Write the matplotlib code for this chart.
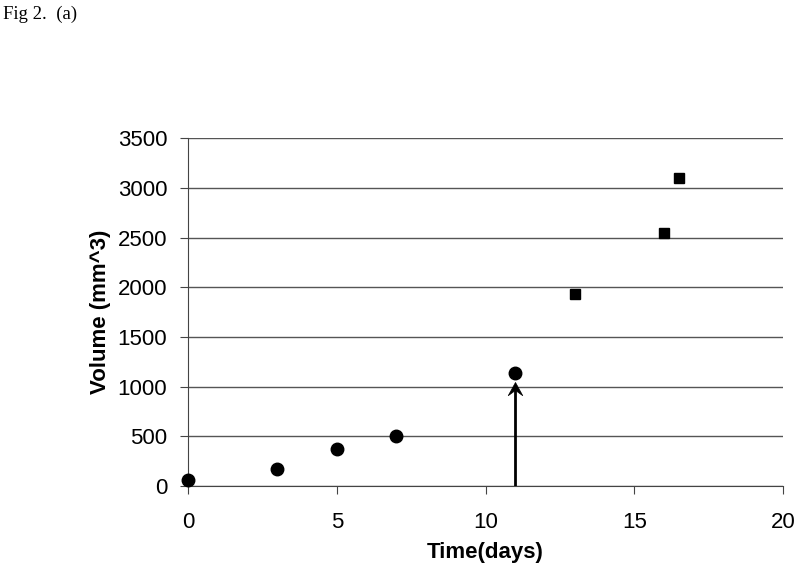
import matplotlib
matplotlib.use("Agg")
import matplotlib.pyplot as plt
from matplotlib.path import Path

# measured tumour volume
days_pre = [0, 3, 5, 7, 11]
vol_pre = [60, 170, 370, 500, 1140]
days_post = [13, 16, 16.5]
vol_post = [1930, 2545, 3095]
arrow_day = 11
arrow_top = 1045

plt.rcParams['font.family'] = ['Liberation Sans', 'DejaVu Sans']

fig = plt.figure(figsize=(8, 5.71), dpi=100)
ax = fig.add_axes([0.235, 0.149, 0.744, 0.609])

ax.set_xlim(0, 20)
ax.set_ylim(0, 3500)
ax.set_xticks(range(0, 21, 5))
ax.set_yticks(range(0, 3501, 500))
ax.yaxis.grid(True, color='#555555', linewidth=1)
ax.set_axisbelow(True)
for s in ['top', 'right']:
    ax.spines[s].set_visible(False)
ax.spines['left'].set_color('#444444')
ax.spines['bottom'].set_color('#444444')
ax.tick_params(direction='out', length=6, labelsize=16, color='#444444')
ax.tick_params(axis='x', pad=13)
ax.tick_params(axis='y', pad=9)

ax.plot(days_pre, vol_pre, 'o', color='black', markersize=9, clip_on=False, zorder=5)
ax.plot(days_post, vol_post, 's', color='black', markersize=7.5, clip_on=False, zorder=5)

# arrow: shaft + notched head
ax.plot([arrow_day, arrow_day], [0, arrow_top - 60], color='black', lw=2, zorder=4)
head = Path([(0, 0), (-0.55, -1), (0, -0.6), (0.55, -1), (0, 0)],
            [Path.MOVETO, Path.LINETO, Path.LINETO, Path.LINETO, Path.CLOSEPOLY])
ax.plot([arrow_day], [arrow_top], marker=head, markersize=19, color='black',
        markeredgewidth=0.5, zorder=4)

ax.set_xlabel('Time(days)', fontsize=16, fontweight='bold', labelpad=6)
ax.set_ylabel('Volume (mm^3)', fontsize=16, fontweight='bold', labelpad=5)

fig.text(0.004, 0.99, 'Fig 2.  (a)', family='Liberation Serif', fontsize=13.5, va='top')

fig.savefig('out.png', dpi=100)
